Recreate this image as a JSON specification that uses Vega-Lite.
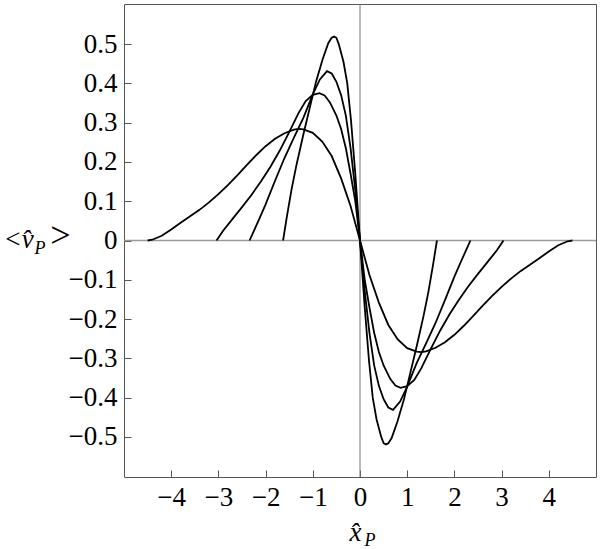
{
  "$schema": "https://vega.github.io/schema/vega-lite/v6.json",
  "width": 472,
  "height": 473,
  "autosize": {"type": "none"},
  "padding": {"left": 124, "top": 4, "right": 4, "bottom": 72},
  "background": "white",
  "title": {
    "text": ">",
    "orient": "top",
    "anchor": "start",
    "frame": "group",
    "offset": 0,
    "dx": -76,
    "dy": 279,
    "baseline": "alphabetic",
    "font": "Liberation Serif",
    "fontSize": 36,
    "fontStyle": "italic",
    "fontWeight": "normal",
    "color": "black"
  },
  "config": {
    "view": {"stroke": "#555", "strokeWidth": 1},
    "axis": {
      "grid": false,
      "domain": false,
      "tickColor": "#555",
      "tickWidth": 1,
      "labelFont": "Liberation Serif",
      "labelColor": "black",
      "labelFontSize": 27,
      "titleFont": "Liberation Serif",
      "titleFontWeight": "normal",
      "titleColor": "black"
    }
  },
  "datasets": {
    "curves": [
      {"c": "A", "x": -4.5, "y": 0}, {"c": "A", "x": -4.4, "y": 0.002}, {"c": "A", "x": -4.2, "y": 0.012}, {"c": "A", "x": -4.0, "y": 0.028},
      {"c": "A", "x": -3.8, "y": 0.045}, {"c": "A", "x": -3.6, "y": 0.062}, {"c": "A", "x": -3.4, "y": 0.078}, {"c": "A", "x": -3.2, "y": 0.097},
      {"c": "A", "x": -3.0, "y": 0.118}, {"c": "A", "x": -2.8, "y": 0.141}, {"c": "A", "x": -2.6, "y": 0.166}, {"c": "A", "x": -2.4, "y": 0.192},
      {"c": "A", "x": -2.2, "y": 0.217}, {"c": "A", "x": -2.0, "y": 0.24}, {"c": "A", "x": -1.8, "y": 0.259}, {"c": "A", "x": -1.6, "y": 0.273},
      {"c": "A", "x": -1.4, "y": 0.282}, {"c": "A", "x": -1.3, "y": 0.284}, {"c": "A", "x": -1.2, "y": 0.283}, {"c": "A", "x": -1.0, "y": 0.274},
      {"c": "A", "x": -0.8, "y": 0.252}, {"c": "A", "x": -0.6, "y": 0.215}, {"c": "A", "x": -0.4, "y": 0.158}, {"c": "A", "x": -0.2, "y": 0.088},
      {"c": "A", "x": 0, "y": 0},
      {"c": "A", "x": 0.2, "y": -0.088}, {"c": "A", "x": 0.4, "y": -0.158}, {"c": "A", "x": 0.6, "y": -0.215}, {"c": "A", "x": 0.8, "y": -0.252},
      {"c": "A", "x": 1.0, "y": -0.274}, {"c": "A", "x": 1.2, "y": -0.283}, {"c": "A", "x": 1.3, "y": -0.284}, {"c": "A", "x": 1.4, "y": -0.282},
      {"c": "A", "x": 1.6, "y": -0.273}, {"c": "A", "x": 1.8, "y": -0.259}, {"c": "A", "x": 2.0, "y": -0.24}, {"c": "A", "x": 2.2, "y": -0.217},
      {"c": "A", "x": 2.4, "y": -0.192}, {"c": "A", "x": 2.6, "y": -0.166}, {"c": "A", "x": 2.8, "y": -0.141}, {"c": "A", "x": 3.0, "y": -0.118},
      {"c": "A", "x": 3.2, "y": -0.097}, {"c": "A", "x": 3.4, "y": -0.078}, {"c": "A", "x": 3.6, "y": -0.062}, {"c": "A", "x": 3.8, "y": -0.045},
      {"c": "A", "x": 4.0, "y": -0.028}, {"c": "A", "x": 4.2, "y": -0.012}, {"c": "A", "x": 4.4, "y": -0.002}, {"c": "A", "x": 4.5, "y": 0},

      {"c": "B", "x": -3.04, "y": 0}, {"c": "B", "x": -2.9, "y": 0.025}, {"c": "B", "x": -2.7, "y": 0.055}, {"c": "B", "x": -2.5, "y": 0.085},
      {"c": "B", "x": -2.3, "y": 0.116}, {"c": "B", "x": -2.1, "y": 0.15}, {"c": "B", "x": -1.9, "y": 0.187}, {"c": "B", "x": -1.7, "y": 0.229},
      {"c": "B", "x": -1.5, "y": 0.276}, {"c": "B", "x": -1.3, "y": 0.325}, {"c": "B", "x": -1.15, "y": 0.355}, {"c": "B", "x": -1.0, "y": 0.371},
      {"c": "B", "x": -0.86, "y": 0.375}, {"c": "B", "x": -0.75, "y": 0.369}, {"c": "B", "x": -0.64, "y": 0.352}, {"c": "B", "x": -0.5, "y": 0.318},
      {"c": "B", "x": -0.4, "y": 0.284}, {"c": "B", "x": -0.3, "y": 0.235}, {"c": "B", "x": -0.2, "y": 0.17}, {"c": "B", "x": -0.1, "y": 0.1},
      {"c": "B", "x": 0, "y": 0},
      {"c": "B", "x": 0.1, "y": -0.1}, {"c": "B", "x": 0.2, "y": -0.17}, {"c": "B", "x": 0.3, "y": -0.235}, {"c": "B", "x": 0.4, "y": -0.284},
      {"c": "B", "x": 0.5, "y": -0.318}, {"c": "B", "x": 0.64, "y": -0.352}, {"c": "B", "x": 0.75, "y": -0.369}, {"c": "B", "x": 0.86, "y": -0.375},
      {"c": "B", "x": 1.0, "y": -0.371}, {"c": "B", "x": 1.15, "y": -0.355}, {"c": "B", "x": 1.3, "y": -0.325}, {"c": "B", "x": 1.5, "y": -0.276},
      {"c": "B", "x": 1.7, "y": -0.229}, {"c": "B", "x": 1.9, "y": -0.187}, {"c": "B", "x": 2.1, "y": -0.15}, {"c": "B", "x": 2.3, "y": -0.116},
      {"c": "B", "x": 2.5, "y": -0.085}, {"c": "B", "x": 2.7, "y": -0.055}, {"c": "B", "x": 2.9, "y": -0.025}, {"c": "B", "x": 3.04, "y": 0},

      {"c": "C", "x": -2.34, "y": 0}, {"c": "C", "x": -2.25, "y": 0.024}, {"c": "C", "x": -2.12, "y": 0.059}, {"c": "C", "x": -2.0, "y": 0.092},
      {"c": "C", "x": -1.8, "y": 0.152}, {"c": "C", "x": -1.6, "y": 0.21}, {"c": "C", "x": -1.4, "y": 0.262}, {"c": "C", "x": -1.2, "y": 0.312},
      {"c": "C", "x": -1.0, "y": 0.372}, {"c": "C", "x": -0.85, "y": 0.41}, {"c": "C", "x": -0.7, "y": 0.431}, {"c": "C", "x": -0.6, "y": 0.425},
      {"c": "C", "x": -0.5, "y": 0.404}, {"c": "C", "x": -0.4, "y": 0.37}, {"c": "C", "x": -0.3, "y": 0.318}, {"c": "C", "x": -0.2, "y": 0.235},
      {"c": "C", "x": -0.1, "y": 0.128}, {"c": "C", "x": 0, "y": 0},
      {"c": "C", "x": 0.1, "y": -0.128}, {"c": "C", "x": 0.2, "y": -0.235}, {"c": "C", "x": 0.3, "y": -0.318}, {"c": "C", "x": 0.4, "y": -0.37},
      {"c": "C", "x": 0.5, "y": -0.404}, {"c": "C", "x": 0.6, "y": -0.425}, {"c": "C", "x": 0.7, "y": -0.431}, {"c": "C", "x": 0.85, "y": -0.41},
      {"c": "C", "x": 1.0, "y": -0.372}, {"c": "C", "x": 1.2, "y": -0.312}, {"c": "C", "x": 1.4, "y": -0.262}, {"c": "C", "x": 1.6, "y": -0.21},
      {"c": "C", "x": 1.8, "y": -0.152}, {"c": "C", "x": 2.0, "y": -0.092}, {"c": "C", "x": 2.12, "y": -0.059}, {"c": "C", "x": 2.25, "y": -0.024},
      {"c": "C", "x": 2.34, "y": 0},

      {"c": "D", "x": -1.63, "y": 0}, {"c": "D", "x": -1.55, "y": 0.06}, {"c": "D", "x": -1.45, "y": 0.13}, {"c": "D", "x": -1.35, "y": 0.19},
      {"c": "D", "x": -1.2, "y": 0.27}, {"c": "D", "x": -1.07, "y": 0.335}, {"c": "D", "x": -0.93, "y": 0.405}, {"c": "D", "x": -0.79, "y": 0.462},
      {"c": "D", "x": -0.67, "y": 0.503}, {"c": "D", "x": -0.6, "y": 0.516}, {"c": "D", "x": -0.55, "y": 0.519}, {"c": "D", "x": -0.5, "y": 0.516},
      {"c": "D", "x": -0.45, "y": 0.5}, {"c": "D", "x": -0.35, "y": 0.455}, {"c": "D", "x": -0.27, "y": 0.4}, {"c": "D", "x": -0.19, "y": 0.305},
      {"c": "D", "x": -0.1, "y": 0.17}, {"c": "D", "x": 0, "y": 0},
      {"c": "D", "x": 0.1, "y": -0.17}, {"c": "D", "x": 0.19, "y": -0.305}, {"c": "D", "x": 0.27, "y": -0.4}, {"c": "D", "x": 0.35, "y": -0.455},
      {"c": "D", "x": 0.45, "y": -0.5}, {"c": "D", "x": 0.5, "y": -0.516}, {"c": "D", "x": 0.55, "y": -0.519}, {"c": "D", "x": 0.6, "y": -0.516},
      {"c": "D", "x": 0.67, "y": -0.503}, {"c": "D", "x": 0.79, "y": -0.462}, {"c": "D", "x": 0.93, "y": -0.405}, {"c": "D", "x": 1.07, "y": -0.335},
      {"c": "D", "x": 1.2, "y": -0.27}, {"c": "D", "x": 1.35, "y": -0.19}, {"c": "D", "x": 1.45, "y": -0.13}, {"c": "D", "x": 1.55, "y": -0.06},
      {"c": "D", "x": 1.63, "y": 0}
    ],
    "zero": [{"v": 0}]
  },
  "layer": [
    {
      "data": {"name": "zero"},
      "mark": {"type": "rule", "color": "#9a9a9a", "strokeWidth": 1.5},
      "encoding": {"y": {"field": "v", "type": "quantitative", "axis": null}}
    },
    {
      "data": {"name": "zero"},
      "mark": {"type": "rule", "color": "#777", "strokeWidth": 1},
      "encoding": {"x": {"field": "v", "type": "quantitative", "axis": null}}
    },
    {
      "data": {"name": "curves"},
      "mark": {"type": "line", "color": "black", "strokeWidth": 1.8, "clip": true},
      "encoding": {
        "x": {
          "field": "x", "type": "quantitative",
          "scale": {"domain": [-5, 5], "nice": false, "zero": false},
          "axis": {
            "orient": "bottom",
            "values": [-4, -3, -2, -1, 0, 1, 2, 3, 4],
            "format": "d",
            "tickSize": -7,
            "labelPadding": 14,
            "title": "x̂",
            "titleFontSize": 27,
            "titleFontStyle": "italic",
            "titleAngle": 0,
            "titleAlign": "center",
            "titleBaseline": "alphabetic",
            "titleX": 231,
            "titleY": 63
          }
        },
        "y": {
          "field": "y", "type": "quantitative",
          "scale": {"domain": [-0.602, 0.602], "nice": false, "zero": false},
          "axis": {
            "orient": "left",
            "values": [-0.5, -0.4, -0.3, -0.2, -0.1, 0, 0.1, 0.2, 0.3, 0.4, 0.5],
            "format": ".1~f",
            "tickSize": -7,
            "labelPadding": 14,
            "title": "<v̂",
            "titleFontSize": 27,
            "titleFontStyle": "italic",
            "titleAngle": 0,
            "titleAlign": "left",
            "titleBaseline": "alphabetic",
            "titleX": -121,
            "titleY": 243
          }
        },
        "detail": {"field": "c", "type": "nominal"}
      }
    },
    {
      "data": {"name": "curves"},
      "mark": {"type": "line", "opacity": 0},
      "encoding": {
        "x": {
          "field": "x", "type": "quantitative",
          "axis": {
            "orient": "top", "labels": false, "ticks": false, "domain": false,
            "title": "P", "titleFontSize": 18, "titleFontStyle": "italic",
            "titleAngle": 0, "titleAlign": "left", "titleBaseline": "alphabetic",
            "titleX": 240, "titleY": 541
          }
        },
        "y": {
          "field": "y", "type": "quantitative",
          "axis": {
            "orient": "right", "labels": false, "ticks": false, "domain": false,
            "title": "P", "titleFontSize": 18, "titleFontStyle": "italic",
            "titleAngle": 0, "titleAlign": "left", "titleBaseline": "alphabetic",
            "titleX": -562, "titleY": 249
          }
        },
        "detail": {"field": "c", "type": "nominal"}
      }
    }
  ],
  "resolve": {"axis": {"x": "independent", "y": "independent"}}
}
